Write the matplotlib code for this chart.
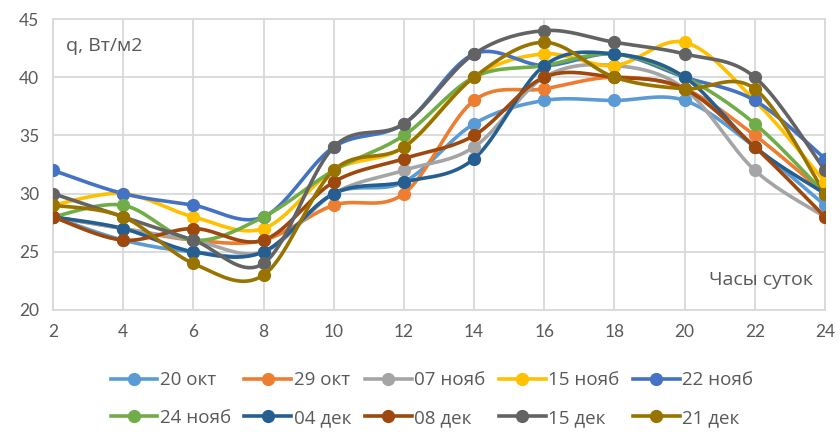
import numpy as np
import matplotlib
matplotlib.use('Agg')
import matplotlib.pyplot as plt

plt.rcParams['font.family'] = ['Lato', 'DejaVu Sans']

hours = [2, 4, 6, 8, 10, 12, 14, 16, 18, 20, 22, 24]

labels = ['20 окт', '29 окт', '07 нояб', '15 нояб', '22 нояб',
          '24 нояб', '04 дек', '08 дек', '15 дек', '21 дек']

oct20 = [28, 26, 25, 25, 30, 31, 36, 38, 38, 38, 34, 29]
oct29 = [28, 27, 26, 26, 29, 30, 38, 39, 40, 39, 35, 30]
nov07 = [28, 27, 26, 25, 30, 32, 34, 40, 41, 39, 32, 28]
nov15 = [29, 30, 28, 27, 32, 34, 40, 42, 41, 43, 38, 31]
nov22 = [32, 30, 29, 28, 34, 36, 42, 41, 42, 40, 38, 33]
nov24 = [28, 29, 26, 28, 32, 35, 40, 41, 42, 40, 36, 30]
dec04 = [28, 27, 25, 25, 30, 31, 33, 41, 42, 40, 34, 30]
dec08 = [28, 26, 27, 26, 31, 33, 35, 40, 40, 39, 34, 28]
dec15 = [30, 28, 26, 24, 34, 36, 42, 44, 43, 42, 40, 32]
dec21 = [29, 28, 24, 23, 32, 34, 40, 43, 40, 39, 39, 30]

series = [oct20, oct29, nov07, nov15, nov22, nov24, dec04, dec08, dec15, dec21]
colors = ['#5B9BD5', '#ED7D31', '#A5A5A5', '#FFC000', '#4472C4',
          '#70AD47', '#255E91', '#9E480E', '#636363', '#997300']


def smooth(x, y, n=20):
    # catmull-rom like excel smoothed lines
    x = np.asarray(x, float)
    y = np.asarray(y, float)
    px = np.concatenate([[x[0]], x, [x[-1]]])
    py = np.concatenate([[y[0]], y, [y[-1]]])
    xs, ys = [], []
    t = np.linspace(0, 1, n)
    for i in range(1, len(px) - 2):
        p0, p1, p2, p3 = (np.array([px[j], py[j]]) for j in (i - 1, i, i + 1, i + 2))
        c1 = p1 + (p2 - p0) / 6
        c2 = p2 - (p3 - p1) / 6
        b = ((1 - t) ** 3)[:, None] * p1 + (3 * (1 - t) ** 2 * t)[:, None] * c1 \
            + (3 * (1 - t) * t ** 2)[:, None] * c2 + (t ** 3)[:, None] * p2
        xs.extend(b[:, 0])
        ys.extend(b[:, 1])
    return xs, ys


fig = plt.figure(figsize=(8.4, 4.32), dpi=100)
ax = fig.add_axes([53 / 840, 1 - 310 / 432, 772 / 840, 291 / 432])

handles = []
for vals, c, lab in zip(series, colors, labels):
    sx, sy = smooth(hours, vals)
    ax.plot(sx, sy, color=c, lw=2.6, solid_capstyle='round', zorder=3)
    ax.plot(hours, vals, 'o', color=c, ms=8.5, zorder=4)
    h, = ax.plot([], [], '-o', color=c, lw=2.6, ms=8.5, label=lab)
    handles.append(h)

ax.set_xlim(2, 24)
ax.set_ylim(20, 45)
ax.set_xticks(hours)
ax.set_yticks(range(20, 46, 5))
ax.grid(True, color='#D9D9D9', lw=1.3, zorder=0)
ax.set_axisbelow(True)
for s in ax.spines.values():
    s.set_color('#D9D9D9')
    s.set_linewidth(1.3)
ax.tick_params(length=0, labelsize=12.5, colors='#595959', pad=10)

ax.text(0.017, 0.89, 'q, Вт/м2', transform=ax.transAxes, fontsize=14, color='#595959',
        family=['Open Sans', 'DejaVu Sans'])
ax.text(0.985, 0.085, 'Часы суток', transform=ax.transAxes, fontsize=14, color='#595959',
        ha='right', family=['Open Sans', 'DejaVu Sans'])

order = [0, 5, 1, 6, 2, 7, 3, 8, 4, 9]
fig.legend([handles[i] for i in order], [labels[i] for i in order], ncol=5,
           loc='center', bbox_to_anchor=(432 / 840, 1 - 399 / 432), frameon=False,
           prop={'family': ['Open Sans', 'DejaVu Sans'], 'size': 13.5},
           labelcolor='#595959', handlelength=2.5, handletextpad=0.15,
           columnspacing=0.7, labelspacing=1.05)

fig.savefig('out.png', dpi=100)
